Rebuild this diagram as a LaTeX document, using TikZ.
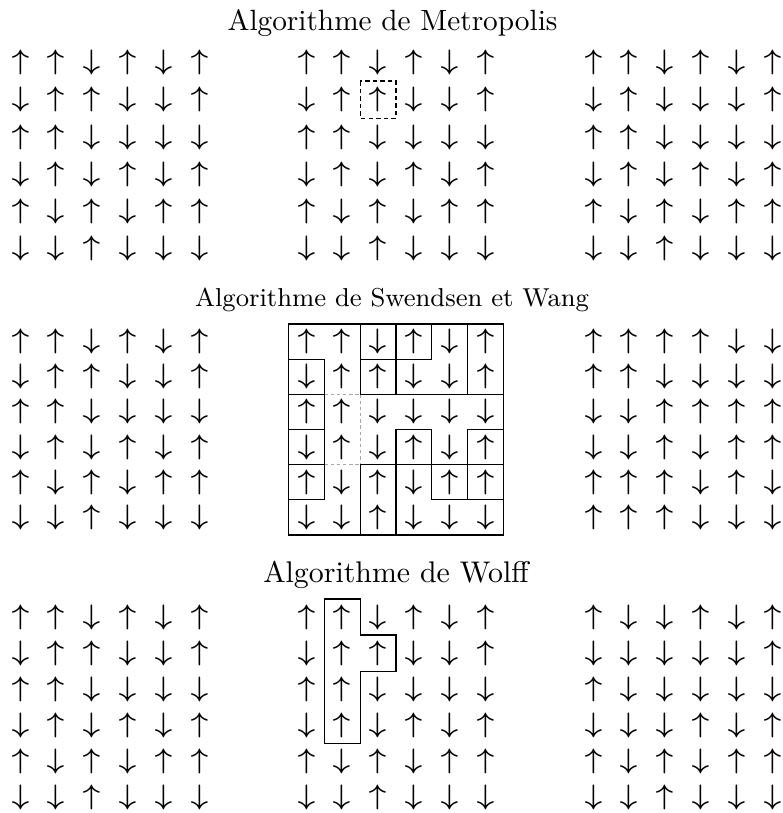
\documentclass[tikz,border=0pt]{standalone}
\newcommand{\arrU}{$\scriptscriptstyle\uparrow$}
\newcommand{\arrD}{$\scriptscriptstyle\downarrow$}
\tikzset{
  spin/.style={inner sep=0pt, outer sep=0pt, scale=2, transform shape},
  cl/.style={line width=0.45pt},
  faint/.style={line width=0.4pt, draw=black!35, dash pattern=on 1.2pt off 1pt},
  pick/.style={line width=0.45pt, dash pattern=on 1.6pt off 1.1pt},
  title/.style={anchor=base, inner sep=0pt}
}
% #1 name, #2 left (px), #3 top (px), #4 row pitch (px), #5 rows, #6 extra drawing
\newcommand{\spingrid}[6]{%
  \begin{scope}[xshift=#2*0.355pt, yshift=-#3*0.355pt, x=12.709pt, y=-#4*0.355pt]
    \foreach \row [count=\r] in {#5} {
      \foreach \s [count=\c] in \row {
        \node[spin] (#1-\r-\c) at (\c-0.5,\r-0.5) {\csname arr\s\endcsname};
      }
    }
    #6
  \end{scope}}
\begin{document}
\begin{tikzpicture}[x=0.355pt, y=-0.355pt]
\useasboundingbox (0,0) rectangle (783,813);
% titles
\node[title, font=\fontsize{10.4}{12}\selectfont] (t1) at (392.5,31) {Algorithme de Metropolis};
\node[title, font=\fontsize{9.2}{11}\selectfont] (t2) at (392,307) {Algorithme de Swendsen et Wang};
\node[title, font=\fontsize{10.6}{12.5}\selectfont] (t3) at (396,582) {Algorithme de Wolff};
% Metropolis
\spingrid{ML}{2.6}{43.75}{37.3}{{U,U,D,U,D,U},{D,U,U,D,D,U},{U,U,D,D,D,D},{D,U,D,U,D,U},{U,D,U,D,U,U},{D,D,U,D,D,D}}{}
\spingrid{MM}{288.6}{43.75}{37.3}{{U,U,D,U,D,U},{D,U,U,D,D,U},{U,U,D,D,D,D},{D,U,D,U,D,U},{U,D,U,D,U,U},{D,D,U,D,D,D}}{%
  \draw[pick] (2,1) rectangle (3,2);}
\spingrid{MR}{575.6}{43.75}{37.3}{{U,U,D,U,D,U},{D,U,D,D,D,U},{U,U,D,D,D,D},{D,U,D,U,D,U},{U,D,U,D,U,U},{D,D,U,D,D,D}}{}
% Swendsen-Wang
\spingrid{SL}{2.6}{324}{35.17}{{U,U,D,U,D,U},{D,U,U,D,D,U},{U,U,D,D,D,D},{D,U,D,U,D,U},{U,D,U,D,U,U},{D,D,U,D,D,D}}{}
\spingrid{SM}{288.6}{324}{35.17}{{U,U,D,U,D,U},{D,U,U,D,D,U},{U,U,D,D,D,D},{D,U,D,U,D,U},{U,D,U,D,U,U},{D,D,U,D,D,D}}{%
  \draw[faint] (2,2) -- (2,4);
  \draw[faint] (1,2) -- (2,2);
  \draw[faint] (1,4) -- (2,4);
  \draw[cl] (0,0) rectangle (6,6);
  % vertical segments
  \foreach \xx/\yy in {2/1,3/1,4/1,5/1, 1/2,2/2,3/2,5/2, 1/3, 1/4,3/4,4/4,5/4, 1/5,2/5,3/5,4/5,5/5, 2/6,3/6}
    {\draw[cl, line cap=rect] (\xx,\yy-1) -- (\xx,\yy);}
  % horizontal segments
  \foreach \xx/\yy in {1/1,3/1,4/1, 1/2,3/2,4/2,5/2,6/2, 1/3,4/3,6/3, 1/4,3/4,4/4,5/4,6/4, 1/5,5/5,6/5}
    {\draw[cl, line cap=rect] (\xx-1,\yy) -- (\xx,\yy);}
}
\spingrid{SR}{575.6}{324}{35.17}{{U,U,U,U,D,D},{U,U,D,D,D,D},{D,D,U,U,U,U},{D,D,U,D,U,U},{U,U,U,D,U,D},{U,U,U,D,D,D}}{}
% Wolff
\spingrid{WL}{2.6}{599}{36.1}{{U,U,D,U,D,U},{D,U,U,D,D,U},{U,U,D,D,D,D},{D,U,D,U,D,U},{U,D,U,D,U,U},{D,D,U,D,D,D}}{}
\spingrid{WM}{288.6}{599}{36.1}{{U,U,D,U,D,U},{D,U,U,D,D,U},{U,U,D,D,D,D},{D,U,D,U,D,U},{U,D,U,D,U,U},{D,D,U,D,D,D}}{%
  \draw[cl] (1,0) -- (2,0) -- (2,1) -- (3,1) -- (3,2) -- (2,2) -- (2,4) -- (1,4) -- cycle;}
\spingrid{WR}{575.6}{599}{36.1}{{U,D,D,U,D,U},{D,D,D,D,D,U},{U,D,D,D,D,D},{D,D,D,U,D,U},{U,D,U,D,U,U},{D,D,U,D,D,D}}{}
\end{tikzpicture}
\end{document}
